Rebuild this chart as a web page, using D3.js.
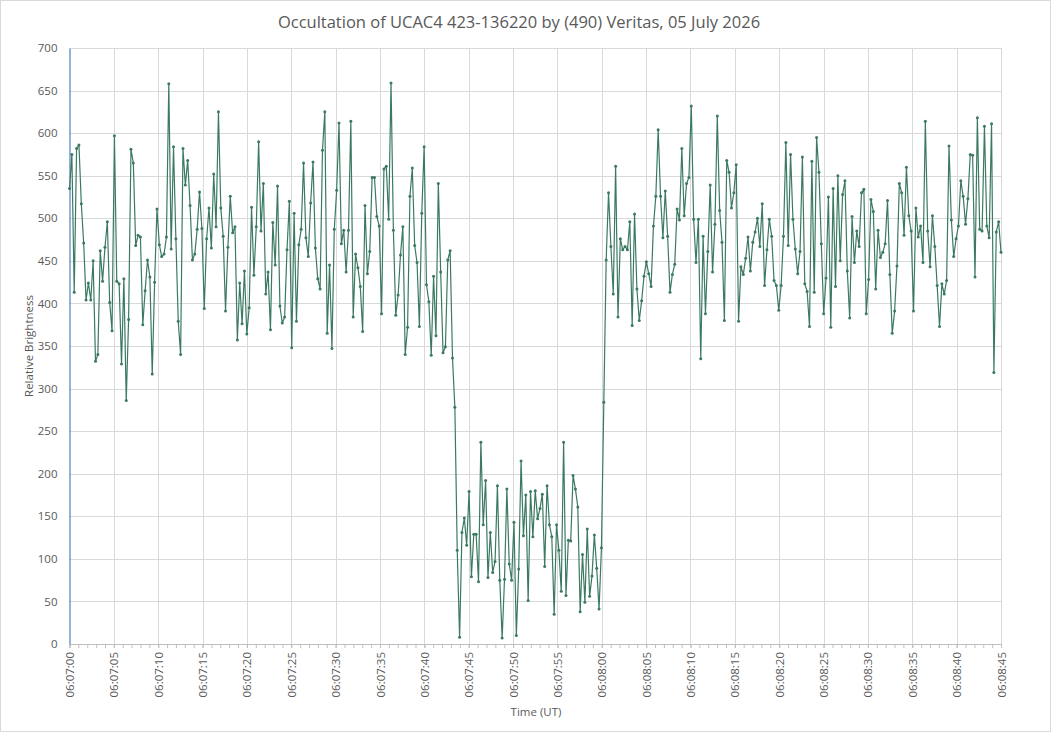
<!DOCTYPE html>
<html>
<head>
<meta charset="utf-8">
<title>Occultation light curve</title>
<script src="https://cdn.jsdelivr.net/npm/d3@7/dist/d3.min.js"></script>
<style>
  body { margin: 0; background: #fff; }
  svg { display: block; }
  text { font-family: "Open Sans", "Noto Sans", sans-serif; fill: #595959; }
</style>
</head>
<body>
<div id="chart"></div>
<script>
// --- data ---
const chartTitle = 'Occultation of UCAC4 423-136220 by (490) Veritas, 05 July 2026';
const startTime = '2026-07-05T06:07:00Z';
const endTime = '2026-07-05T06:08:45Z';

// relative brightness, one value per frame, evenly spaced from start to end
const brightness = [
  535,575,413,582,586,517,471,404,424,404,450,332,340,462,426,466,496,401,368,597,426,423,329,429,286,381,581,565,468,480,478,375,415,451,431,317,425,511,469,455,458,478,658,464,584,476,
  379,340,582,539,568,515,451,458,487,531,488,394,476,512,465,552,490,625,512,479,391,466,526,483,490,357,424,376,438,364,395,513,433,490,590,485,541,411,437,369,495,445,538,397,377,384,463,520,
  348,506,379,469,487,565,477,455,518,566,465,429,417,580,625,365,445,347,487,533,612,470,486,437,486,614,384,458,442,420,367,515,435,461,548,548,502,491,388,558,561,499,659,486,386,410,457,490,
  340,372,526,559,468,448,373,506,584,422,402,339,432,362,541,437,342,349,451,462,336,278,110,8,131,148,116,179,79,129,129,73,237,140,192,78,131,84,97,186,75,7,76,182,94,75,143,10,88,
  215,127,175,51,179,126,180,147,159,176,91,186,140,126,35,140,110,62,237,57,122,121,198,182,161,38,105,49,135,56,80,128,89,41,113,284,
  451,530,467,411,561,384,476,463,467,463,496,374,505,417,380,403,432,449,435,420,491,526,604,526,477,532,479,413,434,446,511,498,582,503,541,548,632,499,448,499,335,479,388,461,539,437,493,620,
  509,472,380,568,554,512,530,563,379,443,434,453,478,438,472,484,500,467,517,421,463,499,479,427,421,392,421,479,589,468,575,499,464,435,461,572,423,414,373,567,413,595,554,470,388,430,525,372,535,
  420,550,450,528,544,438,383,502,448,485,467,530,534,388,428,522,508,417,486,454,460,470,521,434,365,391,444,541,530,480,560,503,485,391,512,478,491,448,614,485,443,503,467,421,373,423,411,427,585,
  498,455,476,491,544,526,493,523,575,574,431,618,487,485,608,491,477,611,319,484,496,460
];

const yTicks = [0, 50, 100, 150, 200, 250, 300, 350, 400, 450, 500, 550, 600, 650, 700];
const majorTickSeconds = 5;
const xTitle = 'Time (UT)';
const yTitle = 'Relative Brightness';

// --- layout ---
const width = 1051, height = 732;
const plot = { left: 69.5, right: 1001, top: 48, bottom: 644 };
const lineColor = '#3b7a61';
const gridColor = '#d9d9d9';

const t0 = new Date(startTime), t1 = new Date(endTime);
const step = (t1 - t0) / (brightness.length - 1);
const points = brightness.map((v, i) => ({ t: new Date(+t0 + i * step), v }));

const svg = d3.select('#chart').append('svg')
  .attr('width', width)
  .attr('height', height);

// chart area border
svg.append('rect')
  .attr('x', 0.5).attr('y', 0.5)
  .attr('width', width - 1).attr('height', height - 1)
  .attr('fill', '#fff')
  .attr('stroke', gridColor);

const x = d3.scaleUtc().domain([t0, t1]).range([plot.left, plot.right]);
const y = d3.scaleLinear().domain([0, 700]).range([plot.bottom, plot.top]);

const majorTicks = d3.utcSecond.every(majorTickSeconds).range(t0, new Date(+t1 + 1));
const minorTicks = d3.utcSecond.every(1).range(t0, new Date(+t1 + 1));

// gridlines
svg.append('g')
  .selectAll('line')
  .data(yTicks.slice(1))
  .join('line')
  .attr('x1', plot.left).attr('x2', plot.right)
  .attr('y1', d => Math.round(y(d)) + 0.5)
  .attr('y2', d => Math.round(y(d)) + 0.5)
  .attr('stroke', gridColor);

svg.append('g')
  .selectAll('line')
  .data(majorTicks.slice(1))
  .join('line')
  .attr('x1', d => Math.round(x(d)) + 0.5)
  .attr('x2', d => Math.round(x(d)) + 0.5)
  .attr('y1', plot.top).attr('y2', plot.bottom)
  .attr('stroke', gridColor);

// x axis: minor ticks every second, labels every 5 s
const xMinor = svg.append('g')
  .attr('transform', `translate(0,${plot.bottom})`)
  .call(d3.axisBottom(x).tickValues(minorTicks).tickSize(4).tickFormat(''));
xMinor.select('.domain').attr('stroke', '#bfbfbf');
xMinor.selectAll('.tick line').attr('stroke', '#bfbfbf');

const fmt = d3.utcFormat('%H:%M:%S');
const xAxis = svg.append('g')
  .attr('transform', `translate(0,${plot.bottom})`)
  .call(d3.axisBottom(x).tickValues(majorTicks).tickSize(4).tickFormat(fmt));
xAxis.select('.domain').remove();
xAxis.selectAll('.tick line').attr('stroke', '#bfbfbf');
xAxis.selectAll('.tick text')
  .attr('transform', 'rotate(-90)')
  .attr('text-anchor', 'end')
  .attr('x', -8)
  .attr('y', 0)
  .attr('dy', '0.35em')
  .style('font-size', '11.5px')
  .style('font-family', '"Open Sans", sans-serif')
  .attr('fill', '#595959');

// y axis
const yAxis = svg.append('g')
  .attr('transform', `translate(${plot.left},0)`)
  .call(d3.axisLeft(y).tickValues(yTicks).tickSize(0).tickPadding(12));
yAxis.select('.domain').attr('stroke', '#4f81bd').attr('stroke-width', 1.2);
yAxis.selectAll('.tick text')
  .style('font-size', '11.5px')
  .style('font-family', '"Open Sans", sans-serif')
  .attr('fill', '#595959');

// series line + markers
const line = d3.line()
  .x(d => x(d.t))
  .y(d => y(d.v));

svg.append('path')
  .datum(points)
  .attr('d', line)
  .attr('fill', 'none')
  .attr('stroke', lineColor)
  .attr('stroke-width', 1.2)
  .attr('stroke-linejoin', 'round');

svg.append('g')
  .selectAll('circle')
  .data(points)
  .join('circle')
  .attr('cx', d => x(d.t))
  .attr('cy', d => y(d.v))
  .attr('r', 1.5)
  .attr('fill', lineColor);

// titles
svg.append('text')
  .attr('x', 519).attr('y', 28)
  .attr('text-anchor', 'middle')
  .style('font-size', '16.5px')
  .text(chartTitle);

svg.append('text')
  .attr('x', 536).attr('y', 716)
  .attr('text-anchor', 'middle')
  .style('font-size', '11.5px')
  .text(xTitle);

svg.append('text')
  .attr('transform', `translate(33,${(plot.top + plot.bottom) / 2}) rotate(-90)`)
  .attr('text-anchor', 'middle')
  .style('font-size', '11.5px')
  .text(yTitle);
</script>
</body>
</html>
